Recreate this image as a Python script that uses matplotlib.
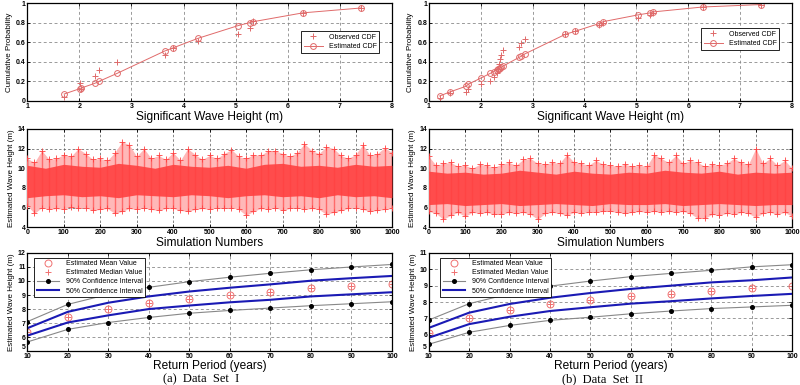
import numpy as np
import matplotlib
matplotlib.use("Agg")
import matplotlib.pyplot as plt

plt.rcParams['font.family'] = ['Liberation Sans', 'DejaVu Sans']

# ---------------- Data: CDF panels ----------------
hs_a = [1.71, 2.01, 2.03, 2.30, 2.38, 2.72, 3.64, 3.79, 4.28, 5.05, 5.27, 5.34, 6.29, 7.41]
obs_cdf_a = [0.035, 0.18, 0.12, 0.25, 0.32, 0.40, 0.47, 0.54, 0.61, 0.68, 0.745, 0.82, 0.90, 0.95]
est_cdf_a = [0.07, 0.125, 0.13, 0.18, 0.20, 0.28, 0.51, 0.54, 0.64, 0.77, 0.80, 0.81, 0.90, 0.95]

hs_b = [1.21, 1.40, 1.72, 1.76, 2.01, 2.18, 2.25, 2.31, 2.33, 2.35, 2.37, 2.40, 2.43,
        2.74, 2.78, 2.85, 3.63, 3.81, 4.28, 4.36, 5.04, 5.27, 5.33, 6.28, 7.41]
obs_cdf_b = [0.03, 0.08, 0.09, 0.12, 0.17, 0.20, 0.24, 0.28, 0.33, 0.38, 0.43, 0.47, 0.52,
             0.55, 0.59, 0.63, 0.68, 0.71, 0.78, 0.80, 0.85, 0.88, 0.90, 0.96, 0.985]
est_cdf_b = [0.05, 0.09, 0.15, 0.17, 0.235, 0.28, 0.30, 0.32, 0.325, 0.33, 0.335, 0.345, 0.355,
             0.445, 0.455, 0.48, 0.68, 0.71, 0.79, 0.81, 0.88, 0.90, 0.91, 0.96, 0.985]

# ---------------- Data: simulation clouds (envelopes) ----------------
sim_env_x = list(range(0, 1001, 20))
sim_top_a = [11.0, 10.6, 11.8, 10.9, 11.0, 11.4, 11.2, 12.0, 11.5, 10.9, 11.0, 10.8, 11.6, 12.7, 12.4,
             11.2, 12.0, 11.0, 11.3, 10.9, 11.6, 10.8, 12.0, 11.4, 10.9, 11.3, 11.0, 11.5, 11.9, 11.2,
             11.0, 11.4, 11.3, 11.8, 11.8, 11.5, 11.2, 11.6, 12.5, 11.8, 11.5, 12.2, 12.0, 11.3, 11.0,
             11.4, 12.4, 11.3, 11.5, 12.1, 11.6]
sim_bot_a = [6.2, 5.4, 6.0, 5.8, 5.9, 5.8, 6.1, 5.9, 6.0, 5.7, 5.8, 5.9, 5.4, 5.6, 5.9,
             5.8, 6.0, 5.8, 5.7, 5.9, 5.9, 5.7, 5.6, 5.8, 5.9, 5.8, 6.0, 5.9, 6.0, 5.8,
             5.2, 5.6, 5.9, 5.8, 6.0, 5.7, 5.9, 6.0, 5.8, 5.9, 5.8, 5.3, 5.5, 5.7, 5.9,
             6.0, 5.8, 5.6, 5.7, 5.8, 5.9]
sim_top_b = [11.2, 10.3, 10.5, 10.6, 10.2, 10.3, 10.0, 10.4, 10.3, 10.1, 10.4, 10.6, 10.3, 10.9, 11.0,
             10.5, 10.4, 10.6, 10.5, 11.4, 10.6, 10.5, 10.3, 10.8, 10.4, 10.3, 10.2, 10.4, 10.2, 10.3,
             10.2, 11.4, 11.0, 10.6, 11.3, 10.5, 10.8, 10.6, 10.2, 10.4, 10.3, 10.5, 11.0, 10.6, 10.4,
             12.0, 10.5, 11.0, 10.3, 10.8, 10.0]
sim_bot_b = [5.6, 5.4, 4.8, 5.2, 5.5, 5.1, 5.5, 5.4, 5.5, 5.3, 5.3, 5.5, 5.4, 5.5, 5.3,
             4.8, 5.4, 5.5, 5.4, 5.2, 5.5, 5.4, 5.5, 5.5, 5.6, 5.6, 5.5, 5.4, 5.5, 5.6,
             5.5, 5.6, 5.5, 5.6, 5.5, 5.6, 5.4, 4.9, 4.9, 5.3, 5.2, 5.4, 5.3, 5.5, 5.4,
             5.0, 5.4, 5.5, 5.3, 5.5, 5.1]
sim_core_x = list(range(0, 1001, 50))
core_top_a = [10.3, 10.0, 10.4, 10.2, 10.1, 10.5, 10.3, 10.0, 10.4, 10.2, 10.1, 10.3, 10.0, 10.4,
              10.5, 10.2, 10.3, 10.1, 10.4, 10.2, 10.3]
core_bot_a = [7.0, 7.2, 7.3, 7.1, 7.2, 7.0, 7.3, 7.2, 7.1, 7.3, 7.2, 7.0, 7.2, 7.3, 7.1, 7.2, 7.0,
              7.3, 7.1, 7.2, 7.0]
core_top_b = [9.7, 9.5, 9.6, 9.4, 9.5, 9.8, 9.6, 9.4, 9.7, 9.5, 9.4, 9.6, 9.5, 9.8, 9.6, 9.5, 9.7,
              9.4, 9.6, 9.5, 9.6]
core_bot_b = [6.3, 6.4, 6.2, 6.3, 6.4, 6.2, 6.3, 6.4, 6.3, 6.2, 6.4, 6.3, 6.3, 6.4, 6.2, 6.3, 6.4,
              6.3, 6.2, 6.3, 6.3]

# ---------------- Data: return period panels ----------------
periods = [10, 20, 30, 40, 50, 60, 70, 80, 90, 100]
mean_a = [6.33, 7.42, 8.0, 8.45, 8.75, 9.0, 9.25, 9.47, 9.65, 9.77]
median_a = [6.33, 7.42, 8.0, 8.45, 8.75, 9.0, 9.25, 9.47, 9.65, 9.77]
ci90_up_a = [7.1, 8.33, 9.05, 9.55, 9.95, 10.27, 10.55, 10.8, 11.0, 11.18]
ci90_lo_a = [5.65, 6.55, 7.04, 7.4, 7.7, 7.9, 8.07, 8.24, 8.38, 8.52]
ci50_up_a = [6.63, 7.8, 8.45, 8.9, 9.25, 9.52, 9.76, 10.02, 10.2, 10.36]
ci50_lo_a = [6.1, 7.04, 7.55, 8.0, 8.25, 8.48, 8.66, 8.9, 9.05, 9.2]

mean_b = [6.12, 7.0, 7.5, 7.85, 8.1, 8.35, 8.52, 8.68, 8.85, 9.0]
median_b = [6.12, 7.0, 7.5, 7.85, 8.1, 8.35, 8.52, 8.68, 8.85, 9.0]
ci90_up_b = [6.9, 7.9, 8.5, 8.97, 9.28, 9.55, 9.75, 9.94, 10.15, 10.28]
ci90_lo_b = [5.42, 6.15, 6.57, 6.88, 7.07, 7.28, 7.45, 7.6, 7.7, 7.8]
ci50_up_b = [6.42, 7.35, 7.88, 8.26, 8.55, 8.8, 9.0, 9.2, 9.33, 9.5]
ci50_lo_b = [5.82, 6.65, 7.1, 7.45, 7.68, 7.9, 8.05, 8.22, 8.37, 8.5]

captions = ["(a)  Data  Set  I", "(b)  Data  Set  II"]

# ---------------- Styling ----------------
PINK = '#e06a6a'
GRIDC = '#8a8a8a'
TICKFS = 5.0
LABFS = 8.6
YLABFS = 5.8


def style_axes(ax):
    ax.grid(True, linestyle=(0, (3.5, 3)), color=GRIDC, linewidth=0.6)
    ax.set_axisbelow(True)
    ax.tick_params(direction='in', length=2, width=0.6, labelsize=TICKFS, pad=1.2,
                   top=True, right=True)
    for lab in ax.get_xticklabels() + ax.get_yticklabels():
        lab.set_fontweight('bold')
    for sp in ax.spines.values():
        sp.set_linewidth(0.9)
        sp.set_color('black')


fig = plt.figure(figsize=(8, 3.85), dpi=100)

cols = [0.034, 0.536]
widths = [0.456, 0.454]
rows = [(0.738, 0.254), (0.410, 0.255), (0.088, 0.255)]

cdf_sets = [(hs_a, obs_cdf_a, est_cdf_a, (0.975, 0.75)),
            (hs_b, obs_cdf_b, est_cdf_b, (0.975, 0.78))]
sim_sets = [(sim_top_a, sim_bot_a, core_top_a, core_bot_a),
            (sim_top_b, sim_bot_b, core_top_b, core_bot_b)]
rp_sets = [(mean_a, median_a, ci90_up_a, ci90_lo_a, ci50_up_a, ci50_lo_a, 12),
           (mean_b, median_b, ci90_up_b, ci90_lo_b, ci50_up_b, ci50_lo_b, 11)]

for c in range(2):
    x0, w = cols[c], widths[c]

    # ---- CDF ----
    hs, obs, est, lpos = cdf_sets[c]
    ax = fig.add_axes([x0, rows[0][0], w, rows[0][1]])
    ax.plot(hs, obs, linestyle='none', marker='+', color=PINK, markersize=4,
            markeredgewidth=0.7, label='Observed CDF')
    ax.plot(hs, est, linestyle='-', marker='o', color=PINK, markersize=4.2,
            markerfacecolor='none', markeredgewidth=0.7, linewidth=0.7, label='Estimated CDF')
    ax.set_xlim(1, 8)
    ax.set_ylim(0, 1)
    ax.set_xticks(range(1, 9))
    ax.set_yticks([0, 0.2, 0.4, 0.6, 0.8, 1])
    ax.set_yticklabels(['0', '0.2', '0.4', '0.6', '0.8', '1'])
    style_axes(ax)
    ax.set_xlabel('Significant Wave Height (m)', fontsize=LABFS, labelpad=1.0)
    ax.set_ylabel('Cumulative Probability', fontsize=YLABFS, labelpad=2)
    leg = ax.legend(loc='upper right', bbox_to_anchor=lpos, fontsize=5.0, frameon=True,
                    fancybox=False, edgecolor='black', framealpha=1, borderpad=0.4,
                    handlelength=2.8, labelspacing=0.35, handletextpad=0.8)
    leg.get_frame().set_linewidth(0.6)

    # ---- Simulation cloud ----
    top, bot, ctop, cbot = sim_sets[c]
    ax = fig.add_axes([x0, rows[1][0], w, rows[1][1]])
    ax.fill_between(sim_env_x, bot, top, color='#ffb8b8', linewidth=0, zorder=2)
    ax.vlines(sim_env_x, bot, top, color='#ff6a6a', linewidth=1.0, zorder=3)
    ax.fill_between(sim_core_x, cbot, ctop, color='#ff4040', linewidth=0, alpha=0.9, zorder=3)
    ax.plot(sim_env_x, top, linestyle='none', marker='+', color='#ff4040', markersize=4,
            markeredgewidth=0.6, zorder=4)
    ax.plot(sim_env_x, bot, linestyle='none', marker='+', color='#ff4040', markersize=4,
            markeredgewidth=0.6, zorder=4)
    ax.set_xlim(0, 1000)
    ax.set_ylim(4, 14)
    ax.set_xticks(range(0, 1001, 100))
    ax.set_yticks(range(4, 15, 2))
    style_axes(ax)
    ax.grid(True, linestyle=(0, (3.5, 3)), color='#555555', linewidth=0.5, zorder=5)
    ax.set_xlabel('Simulation Numbers', fontsize=LABFS, labelpad=1.0)
    ax.set_ylabel('Estimated Wave Height (m)', fontsize=YLABFS, labelpad=2)

    # ---- Return period ----
    mean, med, u90, l90, u50, l50, ytop = rp_sets[c]
    ax = fig.add_axes([x0, rows[2][0], w, rows[2][1]])
    ax.plot(periods, mean, linestyle='none', marker='o', markersize=5, markerfacecolor='none',
            markeredgecolor='#f07070', markeredgewidth=0.7, label='Estimated Mean Value')
    ax.plot(periods, med, linestyle='none', marker='+', markersize=4, color='#f07070',
            markeredgewidth=0.7, label='Estimated Median Value')
    ax.plot(periods, u90, '-', color='#888888', linewidth=0.8, marker='o', markersize=2.6,
            markerfacecolor='black', markeredgecolor='black', label='90% Confidence Interval')
    ax.plot(periods, l90, '-', color='#888888', linewidth=0.8, marker='o', markersize=2.6,
            markerfacecolor='black', markeredgecolor='black')
    ax.plot(periods, u50, '-', color='#1a1ab4', linewidth=1.5, label='50% Confidence Interval')
    ax.plot(periods, l50, '-', color='#1a1ab4', linewidth=1.5)
    ax.set_xlim(10, 100)
    ax.set_ylim(5, ytop)
    ax.set_xticks(periods)
    ax.set_yticks(range(5, ytop + 1))
    style_axes(ax)
    ax.get_yticklabels()[0].set_verticalalignment('bottom')
    ax.set_xlabel('Return Period (years)', fontsize=LABFS, labelpad=0.5)
    ax.set_ylabel('Estimated Wave Height (m)', fontsize=YLABFS, labelpad=2)
    leg = ax.legend(loc='upper left', bbox_to_anchor=(0.01 + 0.012 * c, 0.985), fontsize=5.0,
                    frameon=True, fancybox=False, edgecolor='black', framealpha=1,
                    borderpad=0.35, handlelength=3.2, labelspacing=0.3, handletextpad=1.0)
    leg.get_frame().set_linewidth(0.6)

    fig.text(x0 + w / 2 - 0.01, 0.016, captions[c], ha='center', va='center',
             fontsize=9.0, family=['Liberation Serif', 'DejaVu Serif'])

fig.savefig('out.png', dpi=100)
